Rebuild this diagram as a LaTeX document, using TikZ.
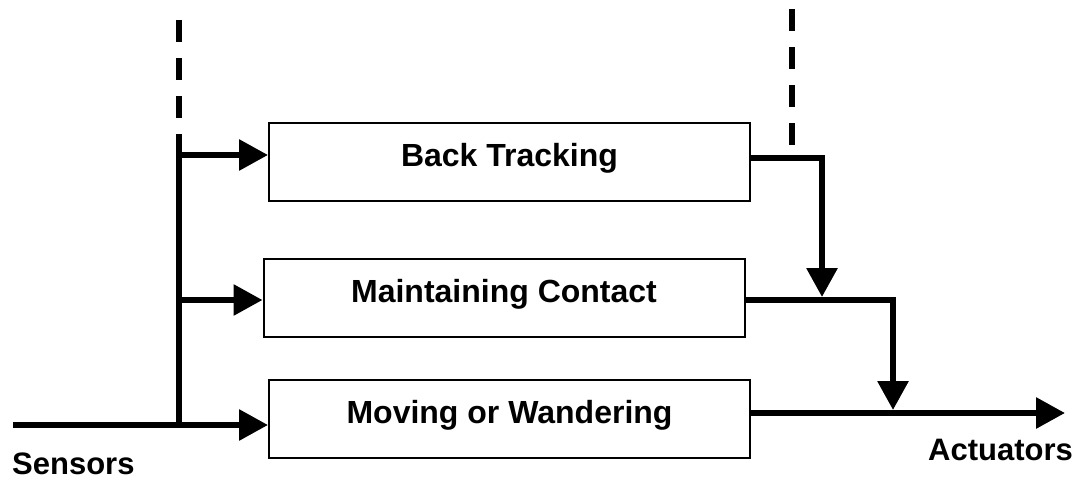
\documentclass[tikz,border=0pt]{standalone}
\usepackage{fontspec}
\setmainfont{Liberation Sans}
\usetikzlibrary{arrows.meta}
\begin{document}
\begin{tikzpicture}[x=1pt,y=-1pt,
  box/.style={draw, line width=2pt, minimum width=481pt, minimum height=78pt, inner sep=0pt,
    font=\fontsize{32}{38}\selectfont\bfseries, text height=20pt, text depth=12pt},
  wire/.style={line width=6pt},
  flow/.style={line width=6pt, -{Triangle[length=29pt,width=30pt]}},
  dashedwire/.style={line width=6pt, dash pattern=on 22pt off 16pt},
  lbl/.style={font=\fontsize{31}{37}\selectfont\bfseries, inner sep=0pt, anchor=base west}]
\useasboundingbox (0,0) rectangle (1087,479);
% boxes
\node[box] (b1) at (509.5,162) {Back Tracking};
\node[box] (b2) at (504,298) {Maintaining Contact};
\node[box] (b3) at (509.5,419) {Moving or Wandering};
% coordinates
\coordinate (sin) at (13,425);
\coordinate (jb) at (179,425);
\coordinate (j2) at (179,300);
\coordinate (j1) at (179,155);
\coordinate (d1) at (179,20);
\coordinate (d2) at (792,9);
\coordinate (d2e) at (792,146);
\coordinate (c1) at (822,158);
\coordinate (m1) at (822,297);
\coordinate (c2) at (893,300);
\coordinate (m2) at (893,410);
\coordinate (out) at (1065,413);
% inputs
\draw[flow] (sin) -- (sin -| b3.west);
\draw[wire] (jb) -- (j1);
\draw[flow] (j1) -- (j1 -| b1.west);
\draw[flow] (j2) -- (j2 -| b2.west);
\draw[dashedwire] (d1) -- (j1);
\draw[dashedwire] (d2) -- (d2e);
% outputs
\draw[flow] (b1.east |- c1) -- (c1) -- (m1);
\draw[flow] (b2.east |- c2) -- (c2) -- (m2);
\draw[flow] (b3.east |- out) -- (out);
% labels
\node[lbl] (sensors) at (12,474) {Sensors};
\node[lbl] (actuators) at (928,460) {Actuators};
\end{tikzpicture}
\end{document}
